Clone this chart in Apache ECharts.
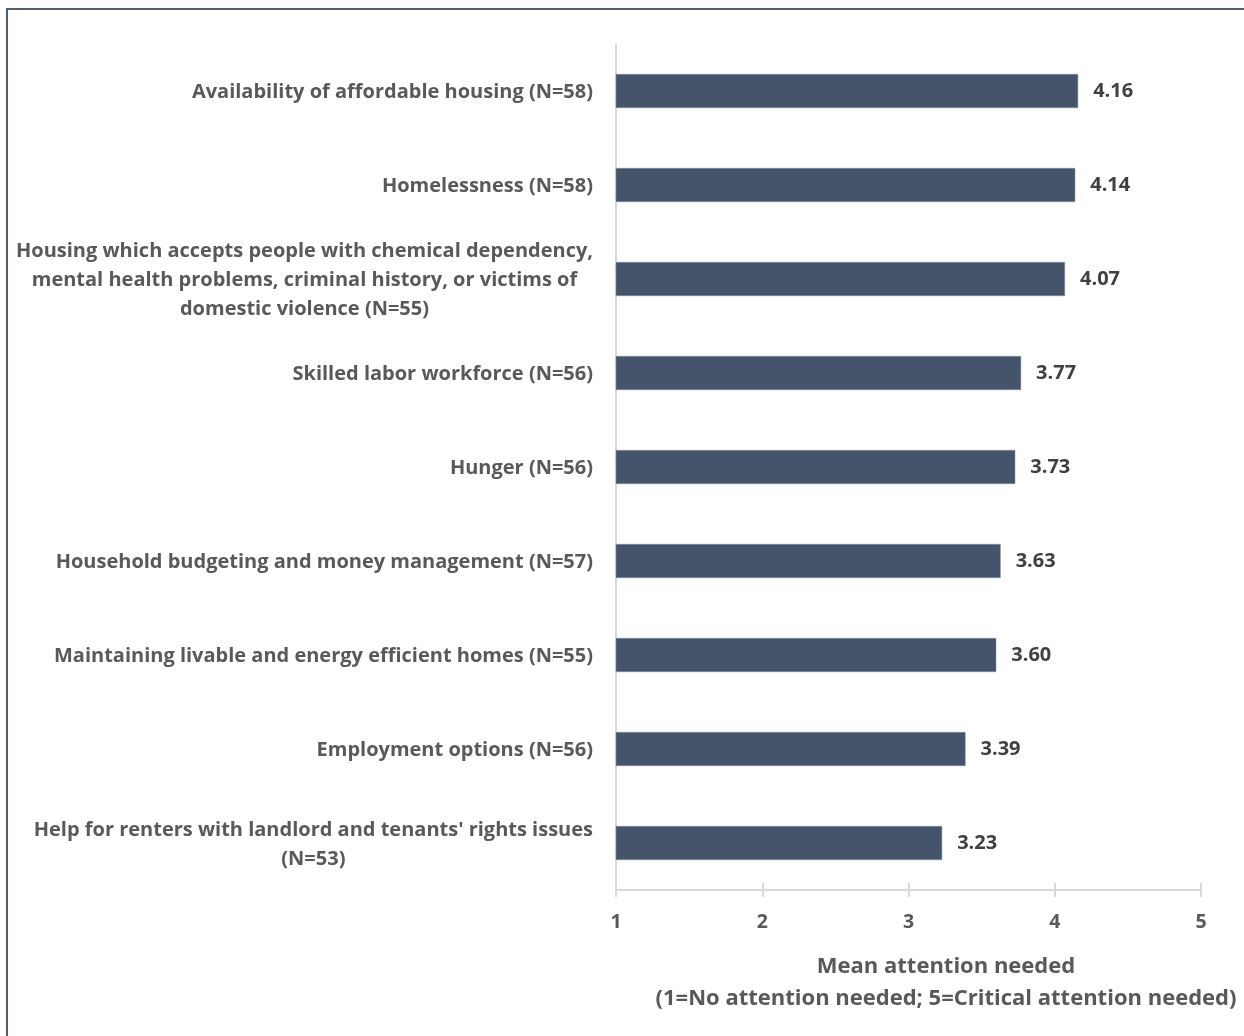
<!DOCTYPE html>
<html>
<head>
<meta charset="utf-8">
<script src="https://cdn.jsdelivr.net/npm/echarts@6/dist/echarts.min.js"></script>
<style>
html,body{margin:0;padding:0;background:#fff;}
#c{width:1244px;height:1036px;}
</style>
</head>
<body>
<div id="c"></div>
<script>
const categories = [
  "Availability of affordable housing (N=58)",
  "Homelessness (N=58)",
  "Housing which accepts people with chemical dependency,\nmental health problems, criminal history, or victims of\ndomestic violence (N=55)",
  "Skilled labor workforce (N=56)",
  "Hunger (N=56)",
  "Household budgeting and money management (N=57)",
  "Maintaining livable and energy efficient homes (N=55)",
  "Employment options (N=56)",
  "Help for renters with landlord and tenants' rights issues\n(N=53)"
];
const values = [4.16, 4.14, 4.07, 3.77, 3.73, 3.63, 3.60, 3.39, 3.23];
const xTicks = [1, 2, 3, 4, 5];
const axisTitle = "Mean attention needed\n(1=No attention needed; 5=Critical attention needed)";

const FONT = "Open Sans";
const LBL = 20;
const chart = echarts.init(document.getElementById('c'), null, {renderer: 'canvas'});
chart.setOption({
  animation: false,
  backgroundColor: '#ffffff',
  textStyle: {fontFamily: FONT},
  graphic: [{
    type: 'rect',
    shape: {x: 7, y: 9, width: 1300, height: 1100},
    style: {fill: 'none', stroke: '#4f5f77', lineWidth: 2},
    silent: true
  }],
  title: {
    text: axisTitle,
    left: 946,
    top: 951,
    padding: 0,
    textAlign: 'center',
    textStyle: {fontFamily: FONT, fontSize: 22, fontWeight: 'bold', color: '#595959', lineHeight: 32, align: 'center'}
  },
  grid: {left: 616, right: 43, top: 44, bottom: 146, containLabel: false},
  xAxis: [{
    type: 'value',
    min: xTicks[0],
    max: xTicks[xTicks.length - 1],
    interval: 1,
    axisLine: {show: true, lineStyle: {color: '#d9d9d9', width: 2}},
    axisTick: {show: true, length: 7, lineStyle: {color: '#d9d9d9', width: 2}},
    splitLine: {show: false},
    axisLabel: {fontFamily: FONT, fontSize: 19.5, fontWeight: 'bold', color: '#595959', margin: 22}
  }, {
    type: 'value',
    position: 'bottom',
    min: xTicks[0],
    max: xTicks[xTicks.length - 1],
    interval: 1,
    axisLine: {show: false},
    axisTick: {show: true, inside: true, length: 7, lineStyle: {color: '#d9d9d9', width: 2}},
    splitLine: {show: false},
    axisLabel: {show: false}
  }],
  yAxis: {
    type: 'category',
    data: categories,
    inverse: true,
    axisLine: {show: true, lineStyle: {color: '#d9d9d9', width: 2}},
    axisTick: {show: false},
    axisLabel: {
      margin: 23,
      align: 'right',
      padding: [3, 0, 0, 0],
      formatter: v => v.split('\n').map(s => '{c|' + s + '}').join('\n'),
      rich: {
        c: {fontFamily: FONT, fontSize: LBL, fontWeight: 'bold', color: '#595959', align: 'center', lineHeight: 29}
      }
    }
  },
  series: [{
    type: 'bar',
    data: values,
    barWidth: 34,
    itemStyle: {color: '#44546a', borderColor: '#8090a6', borderWidth: 0.5},
    label: {
      show: true,
      position: 'right',
      distance: 15,
      padding: [3, 0, 0, 0],
      formatter: p => p.value.toFixed(2),
      fontFamily: FONT, fontSize: LBL, fontWeight: 'bold', color: '#404040'
    }
  }]
});
</script>
</body>
</html>
